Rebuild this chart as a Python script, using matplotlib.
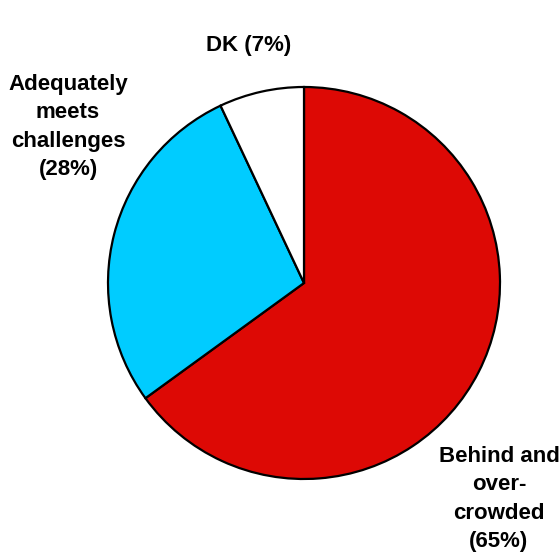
import matplotlib.pyplot as plt

labels = ['Behind and\nover-\ncrowded\n(65%)', 'Adequately\nmeets\nchallenges\n(28%)', 'DK (7%)']
shares = [65, 28, 7]
colors = ['#DD0905', '#00CCFF', '#FFFFFF']

plt.rcParams['font.family'] = ['Liberation Sans', 'DejaVu Sans']

fig = plt.figure(figsize=(5.6, 5.56), dpi=100)
ax = fig.add_axes([0, 0, 1, 1])

# slices run clockwise from 12 o'clock
ax.pie(shares, colors=colors, startangle=90, counterclock=False,
       center=(304, 273), radius=196, frame=True,
       wedgeprops=dict(edgecolor='black', linewidth=1.6))
ax.set_xlim(0, 560)
ax.set_ylim(0, 556)
ax.set_aspect('equal')
ax.axis('off')

# label positions beside the slices
label_xy = [(499, 57), (68, 429), (249, 511)]
for text, (x, y) in zip(labels, label_xy):
    ax.text(x, y, text, ha='center', va='center', fontsize=16,
            fontweight='bold', linespacing=1.45)

fig.savefig('out.png', dpi=100)
